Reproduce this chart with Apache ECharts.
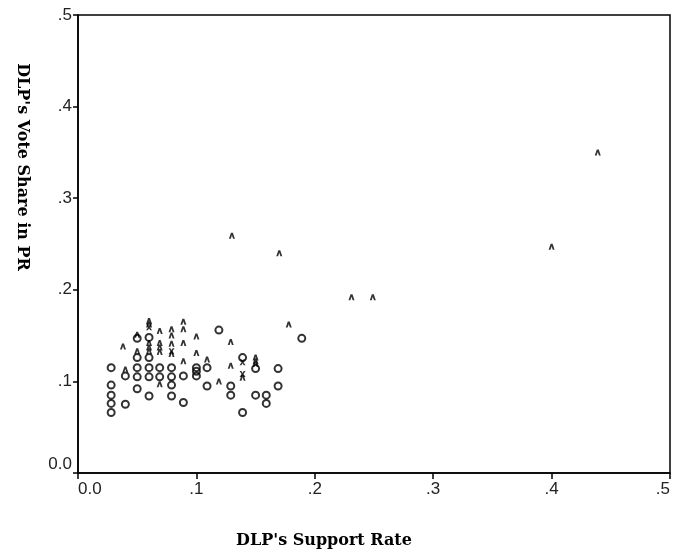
<!DOCTYPE html>
<html>
<head>
<meta charset="utf-8">
<script src="https://cdn.jsdelivr.net/npm/echarts@6/dist/echarts.min.js"></script>
<style>html,body{margin:0;padding:0;background:#fff;}#c{width:677px;height:554px;}</style>
</head>
<body>
<div id="c"></div>
<script>
// Tick values and labels
const tickValues = [0, 0.1, 0.2, 0.3, 0.4, 0.5];
const tickLabels = ['0.0', '.1', '.2', '.3', '.4', '.5'];

// Circle-marked observations [support rate, vote share]
const circlePoints = [
  [0.028,0.115],[0.028,0.096],[0.028,0.085],[0.028,0.076],[0.028,0.066],
  [0.040,0.106],[0.040,0.075],
  [0.050,0.147],[0.050,0.126],[0.050,0.115],[0.050,0.105],[0.050,0.092],
  [0.060,0.148],[0.060,0.126],[0.060,0.115],[0.060,0.105],[0.060,0.084],
  [0.069,0.115],[0.069,0.105],
  [0.079,0.115],[0.079,0.105],[0.079,0.096],[0.079,0.084],
  [0.089,0.106],[0.089,0.077],
  [0.100,0.115],[0.100,0.111],[0.100,0.106],
  [0.109,0.115],[0.109,0.095],
  [0.119,0.156],
  [0.129,0.095],[0.129,0.085],
  [0.139,0.126],[0.139,0.066],
  [0.150,0.114],[0.150,0.085],
  [0.159,0.085],[0.159,0.076],
  [0.169,0.114],[0.169,0.095],
  [0.189,0.147]
];

// Caret-marked observations
const caretPoints = [
  [0.038,0.138],[0.040,0.113],
  [0.050,0.151],[0.050,0.133],
  [0.060,0.166],[0.060,0.162],[0.060,0.142],[0.060,0.137],[0.060,0.133],
  [0.069,0.155],[0.069,0.142],[0.069,0.137],[0.069,0.132],[0.069,0.097],
  [0.079,0.157],[0.079,0.150],[0.079,0.141],[0.079,0.130],
  [0.089,0.165],[0.089,0.157],[0.089,0.142],[0.089,0.122],
  [0.100,0.149],[0.100,0.131],
  [0.109,0.124],
  [0.119,0.100],
  [0.129,0.143],[0.129,0.117],
  [0.139,0.104],
  [0.150,0.126],[0.150,0.122],[0.150,0.119],
  [0.178,0.162],
  [0.130,0.259],[0.170,0.240],[0.231,0.192],[0.249,0.192],[0.400,0.247],[0.439,0.350]
];

// Cross-marked observations
const crossPoints = [
  [0.060,0.159],[0.079,0.133],[0.139,0.121],[0.139,0.108]
];

const labelFor = v => {
  const i = tickValues.findIndex(t => Math.abs(t - v) < 1e-9);
  return i >= 0 ? tickLabels[i] : '';
};

const chart = echarts.init(document.getElementById('c'));
const caretPath = 'path://M0,10 L3.4,0 L6.6,0 L10,10 L6.9,10 L5,4.2 L3.1,10 Z';
const crossPath = 'path://M0,0 L3,0 L5,3.2 L7,0 L10,0 L6.6,5 L10,10 L7,10 L5,6.8 L3,10 L0,10 L3.4,5 Z';

chart.setOption({
  animation: false,
  backgroundColor: '#fff',
  grid: {left: 78, right: 7, top: 15, bottom: 80, show: true, borderColor: '#000', borderWidth: 1.5, backgroundColor: 'transparent'},
  xAxis: {
    type: 'value', min: 0, max: 0.5, interval: 0.1,
    name: "DLP's Support Rate", nameLocation: 'middle', nameGap: 60,
    nameTextStyle: {fontFamily: 'DejaVu Serif', fontWeight: 'bold', fontSize: 16, color: '#000', padding: [0, 100, 0, 0]},
    axisLine: {show: true, lineStyle: {color: '#000', width: 1.5}},
    axisTick: {show: true, inside: false, length: 6, lineStyle: {color: '#000', width: 1.5}},
    splitLine: {show: false},
    axisLabel: {formatter: labelFor, fontFamily: 'Liberation Sans', fontSize: 17, color: '#222', margin: 8,
      alignMinLabel: 'left', alignMaxLabel: 'right'}
  },
  yAxis: {
    type: 'value', min: 0, max: 0.5, interval: 0.1,
    name: "DLP's Vote Share in PR", nameLocation: 'middle', nameGap: 48, nameRotate: -90,
    nameTextStyle: {fontFamily: 'DejaVu Serif', fontWeight: 'bold', fontSize: 16, color: '#000', padding: [0, 154, 0, 0]},
    axisLine: {show: true, lineStyle: {color: '#000', width: 1.5}},
    axisTick: {show: true, inside: false, length: 5, lineStyle: {color: '#000', width: 1.5}},
    splitLine: {show: false},
    axisLabel: {formatter: labelFor, fontFamily: 'Liberation Sans', fontSize: 17, color: '#222', margin: 6,
      verticalAlignMinLabel: 'bottom'}
  },
  series: [
    {type: 'scatter', name: 'circle', data: circlePoints, symbol: 'circle', symbolSize: 7,
      itemStyle: {color: 'rgba(0,0,0,0)', borderColor: '#000', borderWidth: 2}},
    {type: 'scatter', name: 'caret', data: caretPoints, symbol: caretPath, symbolSize: [6, 6],
      itemStyle: {color: '#000'}},
    {type: 'scatter', name: 'cross', data: crossPoints, symbol: crossPath, symbolSize: [6, 6],
      itemStyle: {color: '#000'}}
  ]
});
</script>
</body>
</html>
